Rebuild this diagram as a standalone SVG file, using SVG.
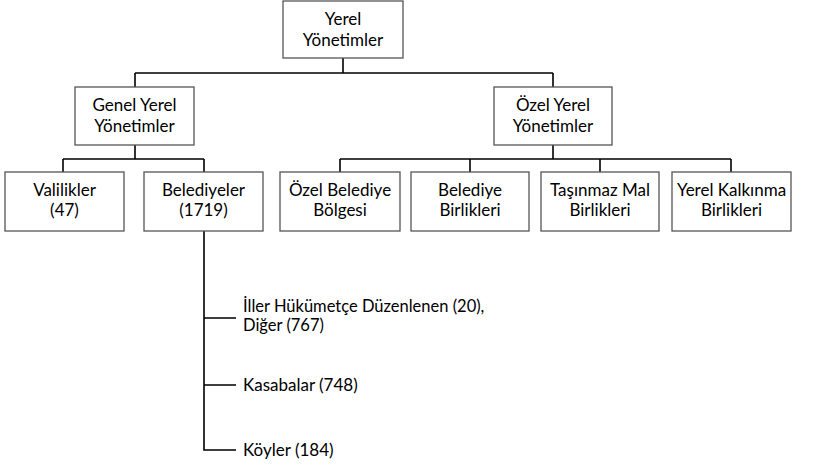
<svg xmlns="http://www.w3.org/2000/svg" width="826" height="467" viewBox="0 0 826 467">
<style>
.box{fill:#fff;stroke:#555;stroke-width:1.3}
.ln{fill:none;stroke:#000;stroke-width:1.6}
text{font-family:Lato,"Open Sans","Liberation Sans",sans-serif;font-size:17px;fill:#000}
.c{text-anchor:middle}
.t{font-size:16.5px}
</style>
<rect width="826" height="467" fill="#fff"/>
<g id="connectors">
<path class="ln" d="M343 58V73M135 73H553M135 73V87M553 73V87"/>
<path class="ln" d="M135 145V159M63 159H204M63 159V172M204 159V172"/>
<path class="ln" d="M553 145V159M340 159H731M340 159V172M470 159V172M600 159V172M731 159V172"/>
<path class="ln" d="M204 231V450H236M204 318H236M204 385H236"/>
</g>
<g id="n-yerel"><rect class="box" x="283" y="1" width="120" height="57"/><text class="c" x="343" y="25">Yerel</text><text class="c" x="343" y="46">Yönetimler</text></g>
<g id="n-genel"><rect class="box" x="75" y="87" width="119" height="58"/><text class="c" x="134.5" y="111">Genel Yerel</text><text class="c" x="134.5" y="132">Yönetimler</text></g>
<g id="n-ozel"><rect class="box" x="494" y="87" width="118" height="58"/><text class="c" x="553" y="111">Özel Yerel</text><text class="c" x="553" y="132">Yönetimler</text></g>
<g id="n-valilikler"><rect class="box" x="5" y="172" width="119" height="59"/><text class="c" x="64.5" y="196">Valilikler</text><text class="c" x="64.5" y="216">(47)</text></g>
<g id="n-belediyeler"><rect class="box" x="144" y="172" width="119" height="59"/><text class="c" x="203.5" y="196">Belediyeler</text><text class="c" x="203.5" y="216">(1719)</text></g>
<g id="n-ozelbel"><rect class="box" x="280" y="172" width="120" height="59"/><text class="c" x="340" y="196">Özel Belediye</text><text class="c" x="340" y="216">Bölgesi</text></g>
<g id="n-belbir"><rect class="box" x="411" y="172" width="118" height="59"/><text class="c" x="470" y="196">Belediye</text><text class="c" x="470" y="216">Birlikleri</text></g>
<g id="n-tasinmaz"><rect class="box" x="541" y="172" width="118" height="59"/><text class="c" x="600" y="196">Taşınmaz Mal</text><text class="c" x="600" y="216">Birlikleri</text></g>
<g id="n-kalkinma"><rect class="box" x="672" y="172" width="119" height="59"/><text class="c" x="731.5" y="196">Yerel Kalkınma</text><text class="c" x="731.5" y="216">Birlikleri</text></g>
<g id="n-iller"><text class="t" x="243" y="312">İller Hükümetçe Düzenlenen (20),</text><text class="t" x="243" y="331">Diğer (767)</text></g>
<g id="n-kasabalar"><text x="243" y="391">Kasabalar (748)</text></g>
<g id="n-koyler"><text x="243" y="456">Köyler (184)</text></g>
</svg>
